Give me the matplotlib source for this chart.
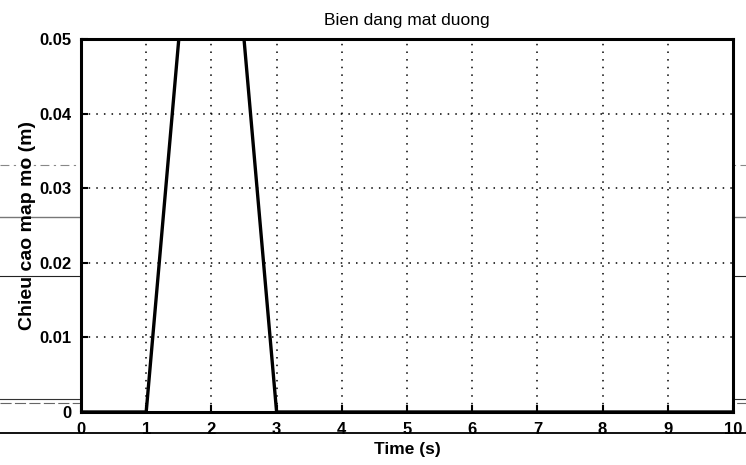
import matplotlib
matplotlib.use("Agg")
import matplotlib.pyplot as plt
from matplotlib.lines import Line2D

# Data
time_s = [0, 1, 2, 3, 4, 5, 6, 7, 8, 9, 10]
height_m = [0, 0, 0.1, 0, 0, 0, 0, 0, 0, 0, 0]
x_ticks = [0, 1, 2, 3, 4, 5, 6, 7, 8, 9, 10]
y_ticks = [0, 0.01, 0.02, 0.03, 0.04, 0.05]
y_tick_labels = ["0", "0.01", "0.02", "0.03", "0.04", "0.05"]

plt.rcParams['font.family'] = ['Liberation Sans', 'DejaVu Sans']

fig = plt.figure(figsize=(7.46, 4.65), dpi=100)
ax = fig.add_axes([81/746, 1-412/465, (733-81)/746, (412-39)/465])

ax.plot(time_s, height_m, color='black', linewidth=2.4, solid_joinstyle='miter')
ax.set_xlim(0, 10)
ax.set_ylim(0, 0.05)
ax.set_xticks(x_ticks)
ax.set_xticklabels([str(t) for t in x_ticks])
ax.set_yticks(y_ticks)
ax.set_yticklabels(y_tick_labels)
ax.grid(True, color='black', linestyle=(0, (1, 4)), linewidth=1.1)
ax.tick_params(direction='in', length=5, width=1.5, labelsize=12, pad=7)
for lbl in ax.get_xticklabels() + ax.get_yticklabels():
    lbl.set_fontweight('bold')
for s in ax.spines.values():
    s.set_linewidth(2.2)

ax.set_title("Bien dang mat duong", fontsize=12.5, pad=10)
ax.set_xlabel("Time (s)", fontsize=12.5, fontweight='bold', labelpad=4)
ax.set_ylabel("Chieu cao map mo (m)", fontsize=14, fontweight='bold', labelpad=2)

# scan artifact lines across the page
def hline(ypx, color, lw, ls='-'):
    fig.add_artist(Line2D([0, 1], [1 - ypx/465, 1 - ypx/465], transform=fig.transFigure,
                          color=color, linewidth=lw, linestyle=ls, zorder=0))

hline(165, '#888888', 0.8, (0, (8, 4, 2, 4)))
hline(217, '#777777', 1.0)
hline(276, '#222222', 0.8)
hline(399, '#333333', 0.8)
hline(403, '#666666', 0.8, (0, (10, 3)))
hline(433, '#111111', 1.4)

fig.savefig("out.png", dpi=100)
